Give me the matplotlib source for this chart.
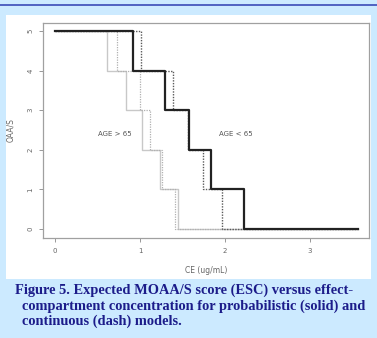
import numpy as np
import matplotlib.pyplot as plt
from matplotlib.patches import Rectangle
from matplotlib.lines import Line2D

# step curves: concentration where each level starts (last point = end of line)
levels = [5, 4, 3, 2, 1, 0, 0]
young_prob_x = [0, 0.92, 1.30, 1.58, 1.83, 2.22, 3.56]
young_cont_x = [0, 1.01, 1.39, 1.57, 1.74, 1.96, 3.56]
old_prob_x = [0, 0.61, 0.84, 1.02, 1.23, 1.45, 3.56]
old_cont_x = [0, 0.73, 1.00, 1.12, 1.255, 1.41, 3.56]

x_ticks = [0, 1, 2, 3]
y_ticks = [0, 1, 2, 3, 4, 5]

caption = ["Figure 5. Expected MOAA/S score (ESC) versus effect-",
           "compartment concentration for probabilistic (solid) and",
           "continuous (dash) models."]

W, H = 377, 338
fig = plt.figure(figsize=(W / 100, H / 100), dpi=100)
fig.patch.set_facecolor('#cceaff')

# top rule and white panel
fig.add_artist(Line2D([0, 1], [1 - 5 / H, 1 - 5 / H], color='#3a4bb8', lw=1.2,
                      transform=fig.transFigure))
fig.add_artist(Rectangle((6 / W, 1 - 279 / H), 365 / W, 264 / H, facecolor='white',
                         edgecolor='none', transform=fig.transFigure, zorder=0))

ax = fig.add_axes([43 / W, 1 - 238 / H, 326 / W, 215 / H])
ax.set_facecolor('white')

ax.step(old_prob_x, levels, where='post', color='#c8c8c8', lw=1.0, zorder=2)
ax.step(old_cont_x, levels, where='post', color='#b0b0b0', lw=0.9,
        linestyle=(0, (1, 1)), zorder=2)
ax.step(young_cont_x, levels, where='post', color='#5a5a5a', lw=1.0,
        linestyle=(0, (1, 1)), zorder=3)
ax.step(young_prob_x, levels, where='post', color='#222222', lw=1.6, zorder=4)

ax.text(0.70, 2.4, 'AGE > 65', fontsize=5, color='#555555', ha='center', va='center')
ax.text(2.13, 2.4, 'AGE < 65', fontsize=5, color='#555555', ha='center', va='center')

ax.set_xlim(-0.141, 3.694)
ax.set_ylim(-0.227, 5.2)
ax.set_xticks(x_ticks)
ax.set_yticks(y_ticks)
ax.set_xticklabels([str(t) for t in x_ticks])
ax.set_yticklabels([str(t) for t in y_ticks], rotation=90, va='center')
ax.tick_params(direction='out', length=3, width=0.6, colors='#888888',
               labelsize=5, labelcolor='#666666', pad=4)
for s in ax.spines.values():
    s.set_color('#a0a0a0')
    s.set_linewidth(0.9)

ax.set_xlabel('CE (ug/mL)', fontsize=5.5, color='#666666', labelpad=9)
ax.set_ylabel('OAA/S', fontsize=5.5, color='#666666', labelpad=9)

ys = [290, 306, 321.5]
xs = [15, 22, 22]
for txt, x, y in zip(caption, xs, ys):
    fig.text(x / W, 1 - y / H, txt, fontsize=10.35, fontweight='bold',
             family='Liberation Serif', color='#1c1c8a', va='center', ha='left')

fig.savefig('out.png', dpi=100, facecolor=fig.get_facecolor())
